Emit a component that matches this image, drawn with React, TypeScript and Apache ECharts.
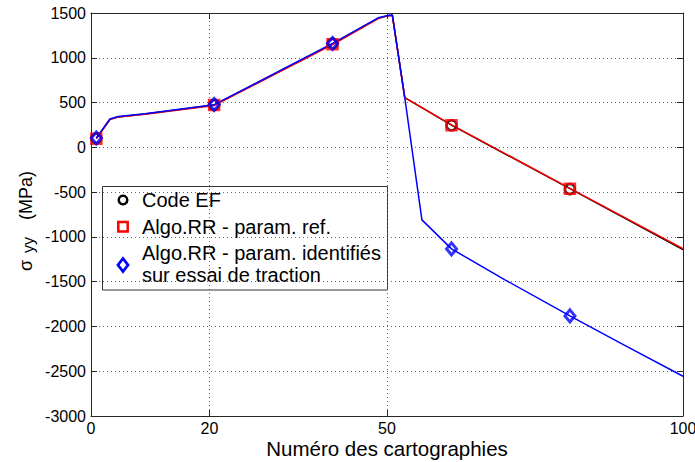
import React, { useEffect, useRef } from 'react';
import * as echarts from 'echarts';

// ---- Data ----
const xTickValues = [0, 20, 50, 100];
const xTopTickValues = [20, 50];
const yMin = -3000;
const yMax = 1500;
const yStep = 500;

const legendNames = [
  'Code EF',
  'Algo.RR - param. ref.',
  'Algo.RR - param. identifiés\nsur essai de traction',
];

const codeEfCurve: [number, number][] = [
  [0.9, 100], [3.2, 312], [4.6, 340], [9.1, 372], [20.8, 472], [40.8, 1152],
  [48.5, 1440], [50, 1468], [50.9, 1476], [53, 556], [60.9, 248], [80.9, -462], [100, -1142],
];
const redCurve: [number, number][] = [
  [0.9, 96], [3.2, 310], [4.6, 338], [9.1, 370], [20.8, 468], [40.8, 1146],
  [48.5, 1438], [50, 1466], [50.9, 1476], [53, 556], [60.9, 250], [80.9, -458], [100, -1132],
];
const blueCurve: [number, number][] = [
  [0.9, 104], [3.2, 316], [4.6, 344], [9.1, 374], [20.8, 476], [40.8, 1160],
  [48.5, 1446], [50, 1470], [50.9, 1478], [53, 556], [55.9, -810], [60.9, -1134],
  [70, -1482], [80.9, -1882], [90, -2206], [100, -2556],
];

const markerX = [0.9, 20.8, 40.8, 60.9, 80.9];
const codeEfMarkers = [100, 474, 1158, 246, -466];
const redMarkers = [96, 472, 1152, 246, -462];
const blueMarkers = [104, 478, 1160, -1134, -1882];

const FONT = 'Liberation Sans, Arial, Helvetica, sans-serif';

export default function App() {
  const ref = useRef<HTMLDivElement>(null);

  useEffect(() => {
    document.body.style.margin = '0';
    const chart = echarts.init(ref.current!, undefined, { renderer: 'svg' });

    const pairs = (ys: number[]) => ys.map((y, i) => [markerX[i], y]);
    const axisLineStyle = { color: '#262626', width: 1 };
    const gridLine = { show: true, lineStyle: { color: '#666', type: [1, 3], width: 1 } };

    const legendText = (text: string, y: number) => ({
      type: 'text',
      x: 142,
      y,
      style: {
        text,
        fontSize: 20,
        lineHeight: 21.7,
        fontFamily: FONT,
        fill: '#000',
        verticalAlign: 'middle',
        align: 'left',
      },
    });

    const option: any = {
      animation: false,
      backgroundColor: '#ffffff',
      textStyle: { fontFamily: FONT },
      grid: {
        left: 91,
        right: 12,
        top: 13,
        bottom: 46,
        containLabel: false,
        outerBoundsMode: 'none',
      },
      xAxis: [
        {
          type: 'value',
          position: 'bottom',
          min: 0,
          max: 100,
          axisLine: { show: true, onZero: false, lineStyle: axisLineStyle },
          axisTick: { show: true, inside: true, length: 6, customValues: xTickValues, lineStyle: axisLineStyle },
          axisLabel: {
            show: true,
            customValues: xTickValues,
            formatter: (v: number) => String(v),
            color: '#000',
            fontSize: 16,
            lineHeight: 15,
            fontFamily: FONT,
            margin: 5,
          },
          splitLine: gridLine,
          name: 'Numéro des cartographies',
          nameLocation: 'middle',
          nameGap: 23,
          nameMoveOverlap: false,
          nameTextStyle: { color: '#000', fontSize: 20.5, lineHeight: 19, fontFamily: FONT },
        },
        {
          type: 'value',
          position: 'top',
          min: 0,
          max: 100,
          axisLine: { show: true, onZero: false, lineStyle: axisLineStyle },
          axisTick: { show: true, inside: true, length: 6, customValues: xTopTickValues, lineStyle: axisLineStyle },
          axisLabel: { show: false },
          splitLine: { show: false },
        },
      ],
      yAxis: [
        {
          type: 'value',
          position: 'left',
          min: yMin,
          max: yMax,
          interval: yStep,
          axisLine: { show: true, onZero: false, lineStyle: axisLineStyle },
          axisTick: { show: true, inside: true, length: 6, lineStyle: axisLineStyle },
          axisLabel: {
            show: true,
            formatter: (v: number) => String(v),
            color: '#000',
            fontSize: 16,
            fontFamily: FONT,
            margin: 5,
          },
          splitLine: gridLine,
        },
        {
          type: 'value',
          position: 'right',
          min: yMin,
          max: yMax,
          interval: yStep,
          axisLine: { show: true, onZero: false, lineStyle: axisLineStyle },
          axisTick: { show: true, inside: true, length: 6, lineStyle: axisLineStyle },
          axisLabel: { show: false },
          splitLine: { show: false },
        },
      ],
      series: [
        {
          name: 'Code EF (courbe)',
          type: 'line',
          data: codeEfCurve,
          showSymbol: false,
          lineStyle: { color: '#000000', width: 1.5 },
          z: 2,
        },
        {
          name: 'Algo.RR ref (courbe)',
          type: 'line',
          data: redCurve,
          showSymbol: false,
          lineStyle: { color: '#ff0000', width: 1.5 },
          z: 3,
        },
        {
          name: 'Algo.RR ident (courbe)',
          type: 'line',
          data: blueCurve,
          showSymbol: false,
          lineStyle: { color: '#0000ff', width: 1.5 },
          z: 4,
        },
        {
          name: legendNames[0],
          type: 'scatter',
          data: pairs(codeEfMarkers),
          symbol: 'circle',
          symbolSize: 10,
          itemStyle: { color: 'rgba(0,0,0,0)', borderColor: '#000000', borderWidth: 2.5 },
          z: 5,
        },
        {
          name: legendNames[1],
          type: 'scatter',
          data: pairs(redMarkers),
          symbol: 'rect',
          symbolSize: 10,
          itemStyle: { color: 'rgba(0,0,0,0)', borderColor: '#ff0000', borderWidth: 2.5 },
          z: 6,
        },
        {
          name: legendNames[2],
          type: 'scatter',
          data: pairs(blueMarkers),
          symbol: 'diamond',
          symbolSize: [10, 12],
          itemStyle: { color: 'rgba(0,0,0,0)', borderColor: '#0000ff', borderWidth: 3 },
          z: 7,
        },
      ],
      graphic: [
        // y-axis title: σ_yy (MPa)
        {
          type: 'text',
          x: 26,
          y: 221,
          rotation: Math.PI / 2,
          style: {
            text: '{s|σ}{sub|yy}{p|(MPa)}',
            align: 'center',
            verticalAlign: 'middle',
            fill: '#000',
            rich: {
              s: { fontSize: 18, lineHeight: 20, padding: [0, 6, 0, 0], fontFamily: FONT, fill: '#000' },
              sub: {
                fontSize: 16,
                lineHeight: 4,
                verticalAlign: 'bottom',
                padding: [0, 17, 0, 1],
                fontFamily: FONT,
                fill: '#000',
              },
              p: { fontSize: 18, lineHeight: 20, fontFamily: FONT, fill: '#000' },
            },
          },
          z: 10,
        },
        // legend box
        {
          type: 'group',
          z: 20,
          children: [
            {
              type: 'rect',
              shape: { x: 102.5, y: 186.5, width: 285, height: 103.5 },
              style: { fill: '#ffffff', stroke: '#333333', lineWidth: 1 },
            },
            {
              type: 'circle',
              shape: { cx: 123, cy: 200, r: 4.3 },
              style: { fill: 'none', stroke: '#000000', lineWidth: 2.5 },
            },
            {
              type: 'rect',
              shape: { x: 118.3, y: 222, width: 9.4, height: 9.4 },
              style: { fill: 'none', stroke: '#ff0000', lineWidth: 2.5 },
            },
            {
              type: 'polygon',
              shape: { points: [[123, 258.5], [128, 265], [123, 271.5], [118, 265]] },
              style: { fill: 'none', stroke: '#0000ff', lineWidth: 2.8 },
            },
            legendText(legendNames[0], 200),
            legendText(legendNames[1], 226.7),
            legendText(legendNames[2], 264.2),
          ],
        },
      ],
    };

    chart.setOption(option);
    return () => chart.dispose();
  }, []);

  return (
    <div
      ref={ref}
      style={{ position: 'fixed', left: 0, top: 0, width: 695, height: 462, background: '#fff' }}
    />
  );
}
